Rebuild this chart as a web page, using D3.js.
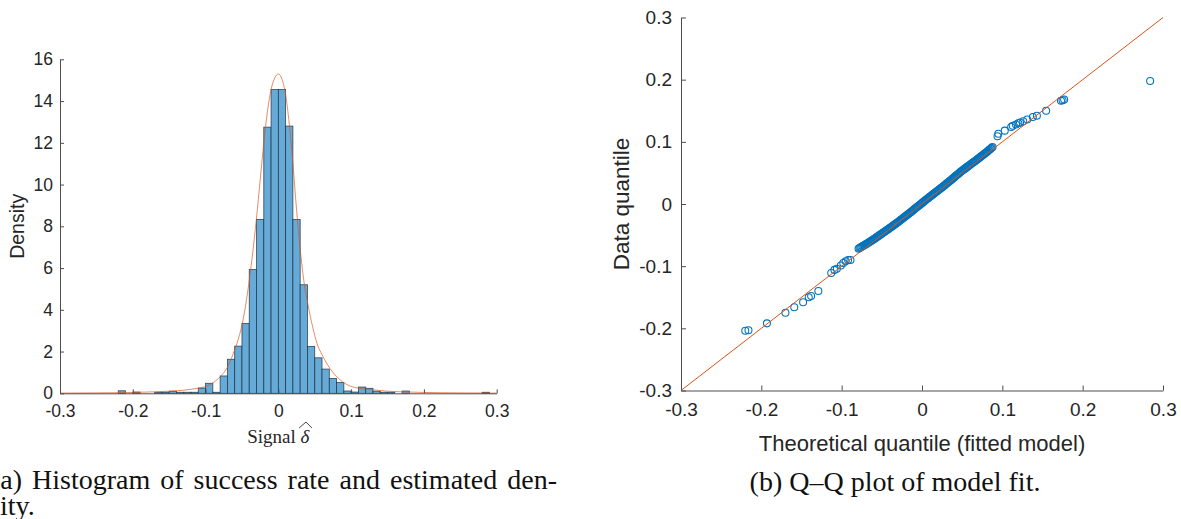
<!DOCTYPE html>
<html>
<head>
<meta charset="utf-8">
<script src="https://cdn.jsdelivr.net/npm/d3@7"></script>
<style>
  body { margin: 0; background: #fff; }
  text { font-family: 'Liberation Sans', Arial, Helvetica, sans-serif; fill: #262626; }
  .caption { font-family: 'Liberation Serif', 'Times New Roman', serif; fill: #111; }
</style>
</head>
<body>
<div id="chart"></div>
<script>
// Histogram: left edge of each 0.01 bin and its density
const binStarts = [-0.22, -0.20, -0.17, -0.16, -0.15, -0.14, -0.13, -0.12, -0.11, -0.10,
  -0.09, -0.08, -0.07, -0.06, -0.05, -0.04, -0.03, -0.02, -0.01, 0.00,
  0.01, 0.02, 0.03, 0.04, 0.05, 0.06, 0.07, 0.08, 0.09, 0.10,
  0.11, 0.12, 0.13, 0.14, 0.15, 0.17, 0.28]
const binDensity = [0.12, 0.06, 0.05, 0.05, 0.10, 0.05, 0.05, 0.05, 0.25, 0.48,
  0.05, 0.83, 1.63, 2.26, 3.35, 5.93, 8.33, 12.75, 14.55, 14.55,
  12.8, 8.33, 5.2, 2.24, 1.70, 1.16, 0.71, 0.52, 0.11, 0.06,
  0.30, 0.24, 0.10, 0.05, 0.05, 0.11, 0.05]
const binWidth = 0.01

// Estimated density curve
const densityX = [-0.30, -0.25, -0.20, -0.17, -0.15, -0.13, -0.12, -0.11, -0.10, -0.09,
  -0.08, -0.07, -0.062, -0.055, -0.048, -0.042, -0.036, -0.03, -0.025, -0.02,
  -0.015, -0.01, -0.005, 0, 0.005, 0.01, 0.015, 0.02, 0.025, 0.03,
  0.035, 0.041, 0.047, 0.053, 0.06, 0.067, 0.075, 0.085, 0.10, 0.12,
  0.135, 0.15, 0.17, 0.20, 0.25, 0.30]
const densityY = [0.01, 0.02, 0.04, 0.07, 0.10, 0.15, 0.19, 0.25, 0.32, 0.50,
  0.79, 1.25, 1.90, 2.60, 3.60, 4.90, 6.50, 8.40, 10.2, 12.0,
  13.5, 14.55, 15.1, 15.3, 15.05, 14.3, 12.9, 11.0, 8.8, 6.9,
  5.4, 4.2, 3.2, 2.4, 1.85, 1.40, 1.00, 0.64, 0.33, 0.20,
  0.15, 0.10, 0.07, 0.04, 0.02, 0.01]

// Q-Q plot: theoretical quantile (x) and data quantile (y)
const qqTheo = [
  -0.220, -0.216, -0.193, -0.170, -0.159, -0.148, -0.141, -0.138, -0.129,
  -0.113, -0.109, -0.106, -0.101, -0.098, -0.095, -0.092, -0.089,
  -0.0790, -0.0778, -0.0766, -0.0754, -0.0742, -0.0730, -0.0718, -0.0706, -0.0694, -0.0682,
  -0.0670, -0.0658, -0.0646, -0.0634, -0.0622, -0.0610, -0.0598, -0.0586, -0.0574, -0.0562,
  -0.0550, -0.0538, -0.0526, -0.0514, -0.0502, -0.0490, -0.0478, -0.0466, -0.0454, -0.0442,
  -0.0430, -0.0418, -0.0406, -0.0394, -0.0382, -0.0370, -0.0358, -0.0346, -0.0334, -0.0322,
  -0.0310, -0.0298, -0.0286, -0.0274, -0.0262, -0.0250, -0.0238, -0.0226, -0.0214, -0.0202,
  -0.0190, -0.0178, -0.0166, -0.0154, -0.0142, -0.0130, -0.0118, -0.0106, -0.0094, -0.0082,
  -0.0070, -0.0058, -0.0046, -0.0034, -0.0022, -0.0010, 0.0002, 0.0014, 0.0026, 0.0038,
  0.0050, 0.0062, 0.0074, 0.0086, 0.0098, 0.0110, 0.0122, 0.0134, 0.0146, 0.0158,
  0.0170, 0.0182, 0.0194, 0.0206, 0.0218, 0.0230, 0.0242, 0.0254, 0.0266, 0.0278,
  0.0290, 0.0302, 0.0314, 0.0326, 0.0338, 0.0350, 0.0362, 0.0374, 0.0386, 0.0398,
  0.0410, 0.0422, 0.0434, 0.0446, 0.0458, 0.0470, 0.0482, 0.0494, 0.0506, 0.0518,
  0.0530, 0.0542, 0.0554, 0.0566, 0.0578, 0.0590, 0.0602, 0.0614, 0.0626, 0.0638,
  0.0650, 0.0662, 0.0674, 0.0686, 0.0698, 0.0710, 0.0722, 0.0734, 0.0746, 0.0758,
  0.0770, 0.0782, 0.0794, 0.0806, 0.0818, 0.0830, 0.0842, 0.0854, 0.0866, 0.0878,
  0.094, 0.095, 0.103, 0.111, 0.113, 0.117, 0.120, 0.122, 0.126, 0.131,
  0.138, 0.143, 0.1545, 0.173, 0.175, 0.177, 0.284]
const qqData = [
  -0.204, -0.203, -0.192, -0.175, -0.166, -0.158, -0.150, -0.148, -0.140,
  -0.111, -0.106, -0.104, -0.099, -0.095, -0.092, -0.090, -0.090,
  -0.0719, -0.0709, -0.0699, -0.0690, -0.0681, -0.0672, -0.0663, -0.0653, -0.0643, -0.0634,
  -0.0624, -0.0614, -0.0605, -0.0595, -0.0585, -0.0575, -0.0565, -0.0554, -0.0543, -0.0532,
  -0.0521, -0.0510, -0.0499, -0.0489, -0.0478, -0.0467, -0.0456, -0.0446, -0.0435, -0.0424,
  -0.0413, -0.0402, -0.0391, -0.0380, -0.0369, -0.0358, -0.0346, -0.0335, -0.0324, -0.0313,
  -0.0301, -0.0290, -0.0278, -0.0266, -0.0254, -0.0242, -0.0230, -0.0218, -0.0206, -0.0194,
  -0.0182, -0.0170, -0.0157, -0.0145, -0.0132, -0.0120, -0.0107, -0.0095, -0.0082, -0.0070,
  -0.0057, -0.0045, -0.0032, -0.0020, -0.0007, 0.0005, 0.0018, 0.0030, 0.0043, 0.0055,
  0.0068, 0.0080, 0.0093, 0.0105, 0.0118, 0.0130, 0.0142, 0.0154, 0.0166, 0.0178,
  0.0190, 0.0202, 0.0214, 0.0226, 0.0238, 0.0250, 0.0262, 0.0274, 0.0287, 0.0299,
  0.0311, 0.0324, 0.0336, 0.0349, 0.0361, 0.0374, 0.0387, 0.0400, 0.0413, 0.0427,
  0.0440, 0.0453, 0.0466, 0.0479, 0.0492, 0.0505, 0.0517, 0.0529, 0.0541, 0.0553,
  0.0565, 0.0577, 0.0589, 0.0601, 0.0612, 0.0624, 0.0635, 0.0647, 0.0658, 0.0670,
  0.0681, 0.0693, 0.0704, 0.0716, 0.0728, 0.0740, 0.0752, 0.0764, 0.0776, 0.0788,
  0.0800, 0.0812, 0.0825, 0.0838, 0.0850, 0.0863, 0.0876, 0.0889, 0.0903, 0.0918,
  0.109, 0.113, 0.118, 0.124, 0.126, 0.128, 0.130, 0.131, 0.133, 0.136,
  0.140, 0.142, 0.150, 0.166, 0.167, 0.168, 0.198]
const refLine = [-0.3, 0.3]

// Ticks
const histXTicks = [-0.3, -0.2, -0.1, 0, 0.1, 0.2, 0.3]
const histXLabels = ['-0.3', '-0.2', '-0.1', '0', '0.1', '0.2', '0.3']
const histYTicks = [0, 2, 4, 6, 8, 10, 12, 14, 16]
const qqTicks = [-0.3, -0.2, -0.1, 0, 0.1, 0.2, 0.3]
const qqLabels = ['-0.3', '-0.2', '-0.1', '0', '0.1', '0.2', '0.3']

const captionA = ['(a) Histogram of success rate and estimated den-', 'sity.']
const captionB = '(b) Q\u2013Q plot of model fit.'

const W = 1181
const H = 519
const axisColor = '#4d4d4d'
const blue = '#0072BD'
const orange = '#D95319'

const svg = d3
  .select('#chart')
  .append('svg')
  .attr('width', W)
  .attr('height', H)

svg.append('rect').attr('width', W).attr('height', H).attr('fill', '#fff')

function styleAxis(g, size) {
  g.select('.domain').attr('stroke', axisColor).attr('stroke-width', 1)
  g.selectAll('.tick line').attr('stroke', axisColor).attr('stroke-width', 1)
  g.selectAll('.tick text')
    .attr('fill', '#262626')
    .style('font-size', size + 'px')
    .style('font-family', "'Liberation Sans', Arial, sans-serif")
}

// ---------- Left panel: histogram ----------

const hx = d3.scaleLinear().domain([-0.3, 0.3]).range([60, 496.7])
const hy = d3.scaleLinear().domain([0, 16]).range([393.3, 59.3])

const hist = svg.append('g').attr('class', 'hist')

hist
  .selectAll('rect.bar')
  .data(binStarts.map((s, i) => ({ start: s, density: binDensity[i] })))
  .enter()
  .append('rect')
  .attr('class', 'bar')
  .attr('x', d => hx(d.start))
  .attr('width', d => hx(d.start + binWidth) - hx(d.start))
  .attr('y', d => hy(d.density))
  .attr('height', d => hy(0) - hy(d.density))
  .attr('fill', '#66AAD7')
  .attr('stroke', '#1b2f40')
  .attr('stroke-opacity', 0.85)
  .attr('stroke-width', 0.8)

const densityLine = d3
  .line()
  .x(d => hx(d[0]))
  .y(d => hy(d[1]))
  .curve(d3.curveMonotoneX)

hist
  .append('path')
  .datum(densityX.map((x, i) => [x, densityY[i]]))
  .attr('d', densityLine)
  .attr('fill', 'none')
  .attr('stroke', orange)
  .attr('stroke-opacity', 0.75)
  .attr('stroke-width', 0.9)

const hxAxis = d3
  .axisBottom(hx)
  .tickValues(histXTicks)
  .tickFormat((d, i) => histXLabels[i])
  .tickSizeInner(-4)
  .tickSizeOuter(0)
  .tickPadding(11)

hist
  .append('g')
  .attr('transform', 'translate(0,' + hy(0) + ')')
  .call(hxAxis)
  .call(g => styleAxis(g, 17.5))

const hyAxis = d3
  .axisLeft(hy)
  .tickValues(histYTicks)
  .tickSizeInner(-4)
  .tickSizeOuter(0)
  .tickPadding(7)

hist
  .append('g')
  .attr('transform', 'translate(' + hx(-0.3) + ',0)')
  .call(hyAxis)
  .call(g => styleAxis(g, 17.5))

hist
  .append('text')
  .attr('transform', 'translate(24,' + hy(8) + ') rotate(-90)')
  .attr('text-anchor', 'middle')
  .style('font-size', '19.5px')
  .text('Density')

// x label: "Signal" and a hatted delta
const sig = hist
  .append('text')
  .attr('x', hx(0))
  .attr('y', 443)
  .attr('text-anchor', 'middle')
  .style('font-family', "'Liberation Serif', 'DejaVu Serif', serif")
  .style('font-size', '19px')
  .attr('fill', '#333')
sig.append('tspan').text('Signal ')
sig.append('tspan').style('font-style', 'italic').text('\u03B4')

const sigNode = sig.node()
const dStart = sigNode.getStartPositionOfChar(7)
const dEnd = sigNode.getEndPositionOfChar(7)
const hatY = 443 - 15
hist
  .append('path')
  .attr('d', 'M' + (dStart.x - 1.5) + ',' + (hatY) +
    'L' + ((dStart.x + dEnd.x) / 2 + 1) + ',' + (hatY - 6) +
    'L' + (dEnd.x + 2.5) + ',' + (hatY))
  .attr('fill', 'none')
  .attr('stroke', '#333')
  .attr('stroke-width', 0.9)

// ---------- Right panel: Q-Q plot ----------

const qx = d3.scaleLinear().domain([-0.3, 0.3]).range([681, 1163])
const qy = d3.scaleLinear().domain([-0.3, 0.3]).range([390.5, 17.5])

const qq = svg.append('g').attr('class', 'qq')

const qxAxis = d3
  .axisBottom(qx)
  .tickValues(qqTicks)
  .tickFormat((d, i) => qqLabels[i])
  .tickSizeInner(-5)
  .tickSizeOuter(0)
  .tickPadding(12)

qq
  .append('g')
  .attr('transform', 'translate(0,' + qy(-0.3) + ')')
  .call(qxAxis)
  .call(g => styleAxis(g, 19))

const qyAxis = d3
  .axisLeft(qy)
  .tickValues(qqTicks)
  .tickFormat((d, i) => qqLabels[i])
  .tickSizeInner(-5)
  .tickSizeOuter(0)
  .tickPadding(9)

qq
  .append('g')
  .attr('transform', 'translate(' + qx(-0.3) + ',0)')
  .call(qyAxis)
  .call(g => styleAxis(g, 19))

qq
  .selectAll('circle')
  .data(qqTheo.map((t, i) => ({ theo: t, data: qqData[i] })))
  .enter()
  .append('circle')
  .attr('cx', d => qx(d.theo))
  .attr('cy', d => qy(d.data))
  .attr('r', 3.5)
  .attr('fill', 'none')
  .attr('stroke', blue)
  .attr('stroke-width', 1.05)

qq
  .append('line')
  .attr('x1', qx(refLine[0]))
  .attr('y1', qy(refLine[0]))
  .attr('x2', qx(refLine[1]))
  .attr('y2', qy(refLine[1]))
  .attr('stroke', orange)
  .attr('stroke-width', 1)

qq
  .append('text')
  .attr('x', qx(0))
  .attr('y', 451)
  .attr('text-anchor', 'middle')
  .style('font-size', '22px')
  .text('Theoretical quantile (fitted model)')

qq
  .append('text')
  .attr('transform', 'translate(629,' + qy(0) + ') rotate(-90)')
  .attr('text-anchor', 'middle')
  .style('font-size', '22.5px')
  .text('Data quantile')

// ---------- Captions ----------

svg
  .selectAll('text.capA')
  .data(captionA)
  .enter()
  .append('text')
  .attr('class', 'caption capA')
  .attr('x', (d, i) => (i === 0 ? -9 : -11))
  .attr('y', (d, i) => (i === 0 ? 489 : 515))
  .style('font-size', '28px')
  .style('word-spacing', (d, i) => (i === 0 ? '3px' : '0px'))
  .text(d => d)

svg
  .append('text')
  .attr('class', 'caption')
  .attr('x', 895)
  .attr('y', 491)
  .attr('text-anchor', 'middle')
  .style('font-size', '28px')
  .text(captionB)
</script>
</body>
</html>
